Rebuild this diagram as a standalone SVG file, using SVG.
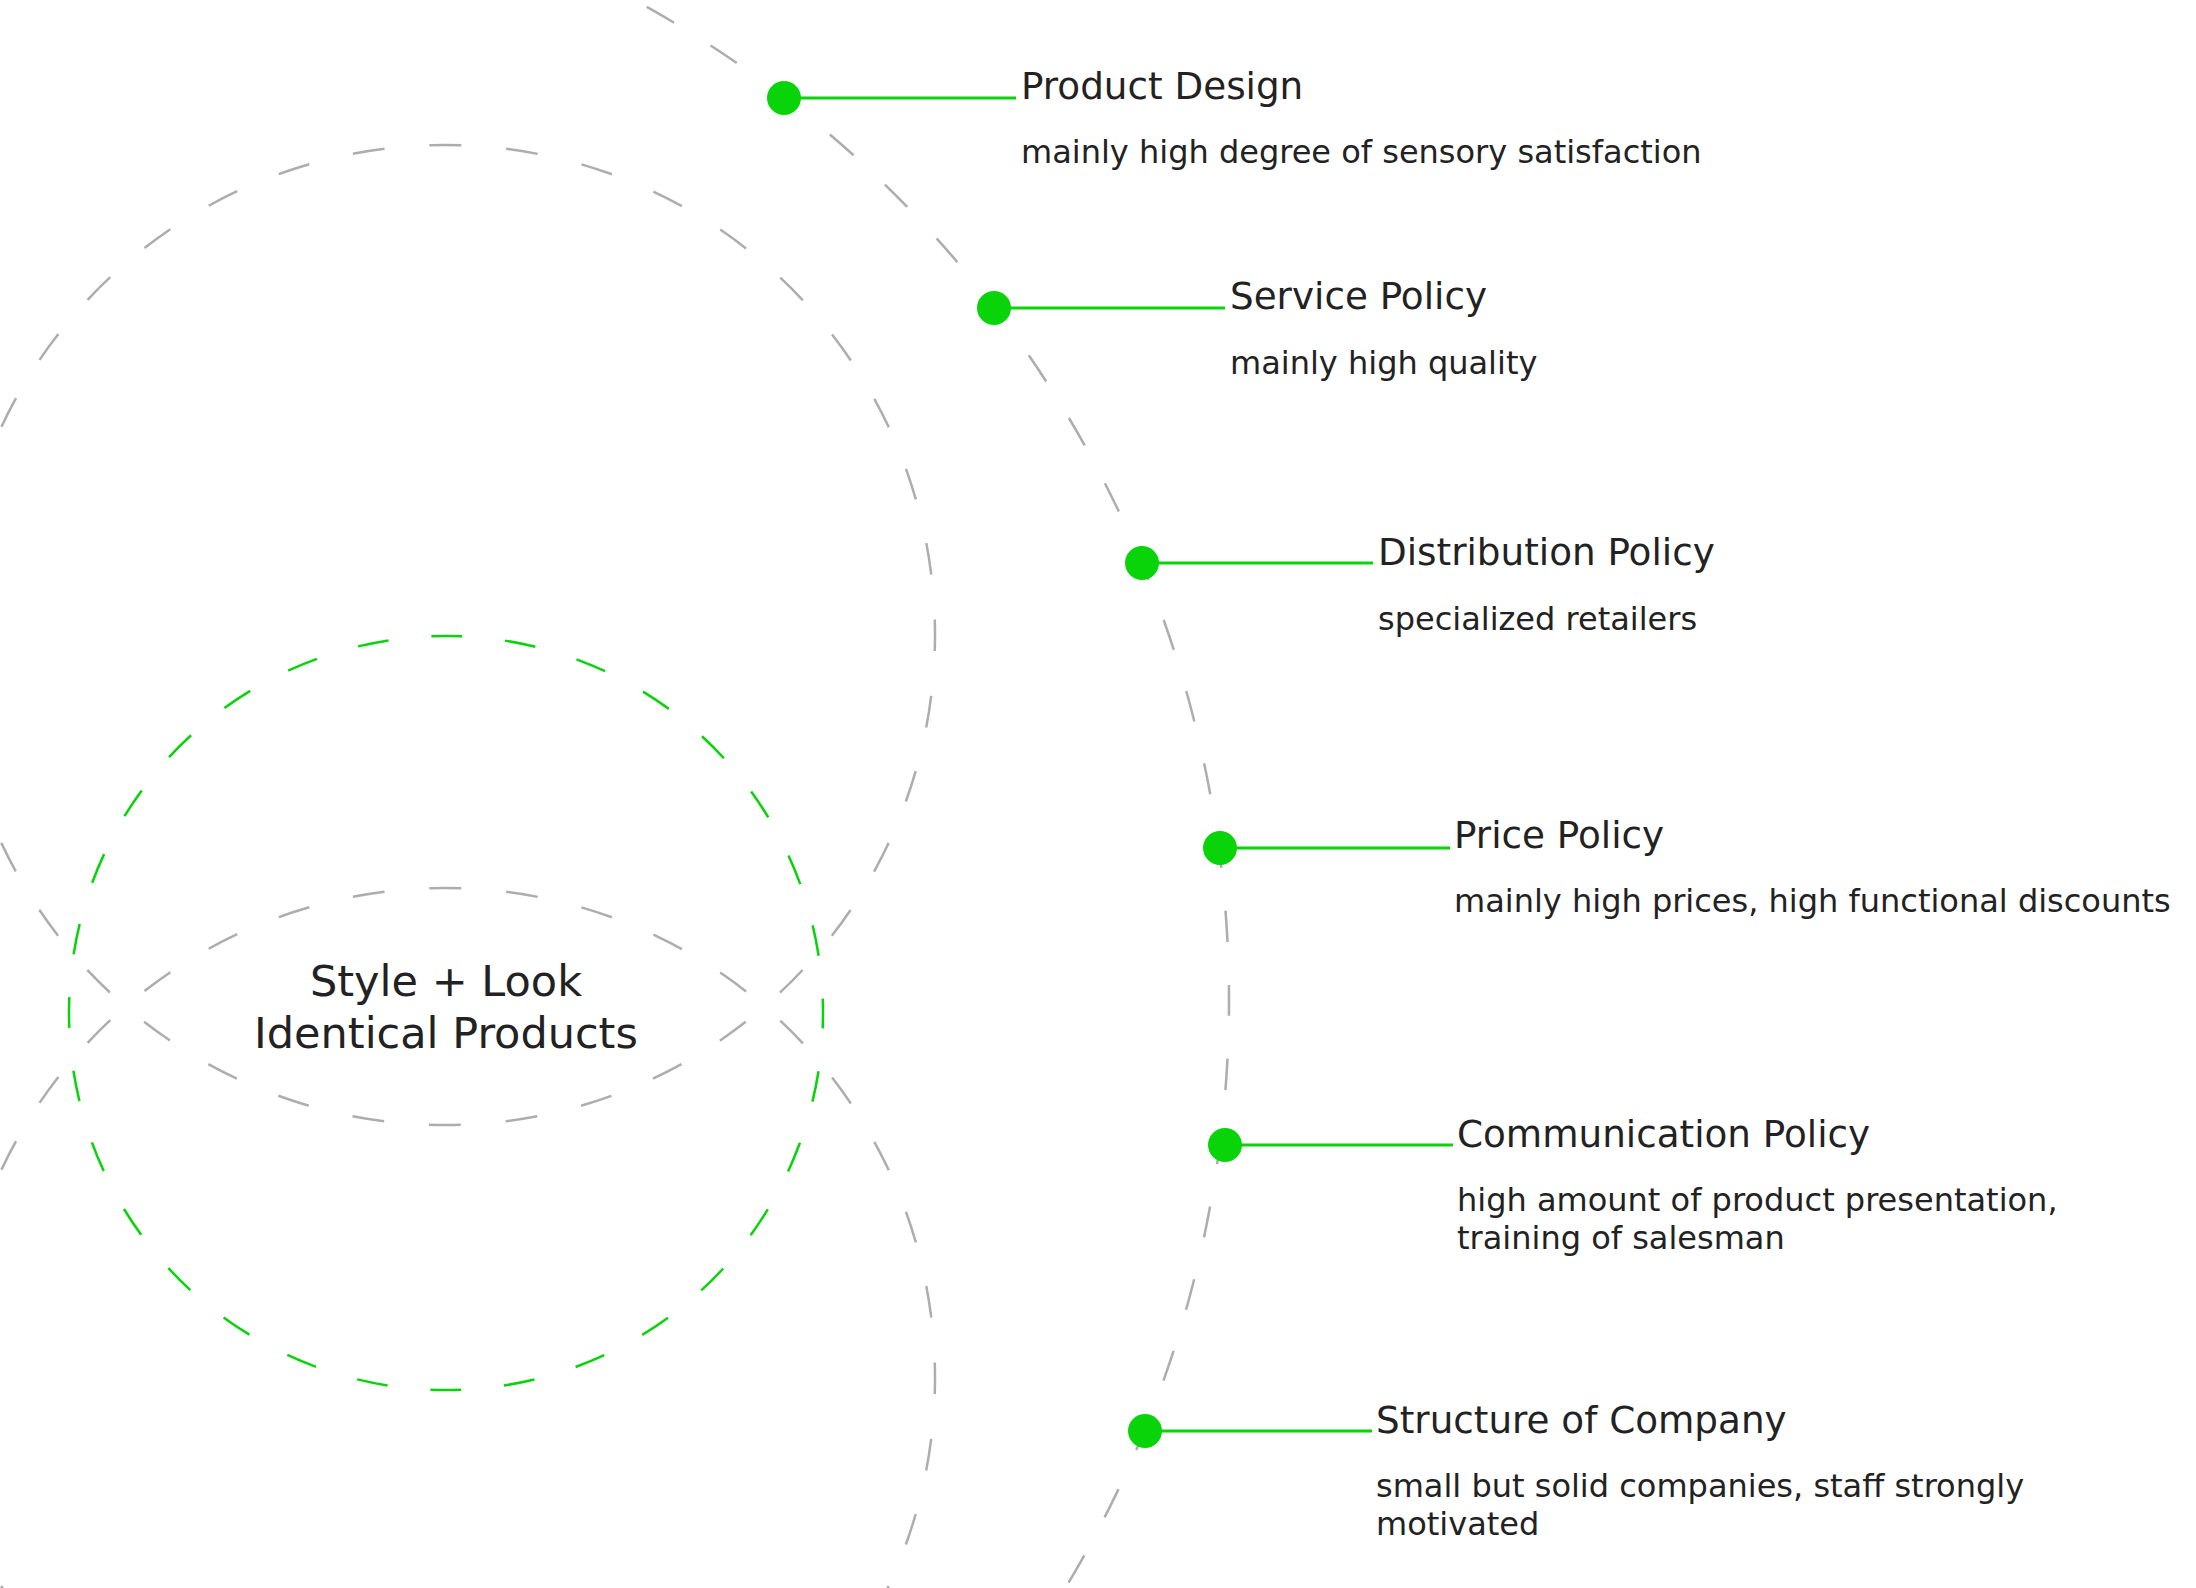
<svg xmlns="http://www.w3.org/2000/svg" width="2196" height="1588" viewBox="0 0 2196 1588">
  <style>
    .bg { fill: #ffffff; }
    .ring { fill: none; stroke: #adadad; stroke-width: 2.5; }
    .big { stroke-dasharray: 31.5 42.982; stroke-dashoffset: 15.75; }
    .mid { stroke-dasharray: 32 44.969; stroke-dashoffset: 16; }
    .green-ring { fill: none; stroke: #09d309; stroke-width: 2.5; stroke-dasharray: 31 43.024; stroke-dashoffset: 15.5; }
    .dot { fill: #09d309; }
    .conn { stroke: #09d309; stroke-width: 3; fill: none; }
    .title { font-family: "DejaVu Sans", Verdana, sans-serif; font-size: 37.3px; fill: #222222; }
    .sub { font-family: "DejaVu Sans", Verdana, sans-serif; font-size: 32px; fill: #222222; }
    .center { font-family: "DejaVu Sans", Verdana, sans-serif; font-size: 43px; fill: #222222; text-anchor: middle; }
  </style>
  <rect class="bg" x="0" y="0" width="2196" height="1588"/>

  <g id="background-rings">
    <circle class="ring big" cx="91" cy="1000" r="1138"/>
    <circle class="ring mid" cx="445" cy="635" r="490"/>
    <circle class="ring mid" cx="445" cy="1378" r="490"/>
  </g>

  <g id="core">
    <circle class="green-ring" cx="446" cy="1013" r="377"/>
    <text class="center" x="446" y="996">Style + Look</text>
    <text class="center" x="446" y="1048">Identical Products</text>
  </g>

  <g id="connectors">
    <line class="conn" x1="784" y1="98" x2="1016" y2="98"/>
    <line class="conn" x1="994" y1="308" x2="1225" y2="308"/>
    <line class="conn" x1="1142" y1="563" x2="1373" y2="563"/>
    <line class="conn" x1="1220" y1="848" x2="1450" y2="848"/>
    <line class="conn" x1="1225" y1="1145" x2="1453" y2="1145"/>
    <line class="conn" x1="1145" y1="1431" x2="1372" y2="1431"/>
  </g>

  <g id="product-design">
    <circle class="dot" cx="784" cy="98" r="17"/>
    <text class="title" x="1021" y="99">Product Design</text>
    <text class="sub" x="1021" y="163">mainly high degree of sensory satisfaction</text>
  </g>

  <g id="service-policy">
    <circle class="dot" cx="994" cy="308" r="17"/>
    <text class="title" x="1230" y="309">Service Policy</text>
    <text class="sub" x="1230" y="374">mainly high quality</text>
  </g>

  <g id="distribution-policy">
    <circle class="dot" cx="1142" cy="563" r="17"/>
    <text class="title" x="1378" y="565">Distribution Policy</text>
    <text class="sub" x="1378" y="630">specialized retailers</text>
  </g>

  <g id="price-policy">
    <circle class="dot" cx="1220" cy="848" r="17"/>
    <text class="title" x="1454" y="848">Price Policy</text>
    <text class="sub" x="1454" y="912">mainly high prices, high functional discounts</text>
  </g>

  <g id="communication-policy">
    <circle class="dot" cx="1225" cy="1145" r="17"/>
    <text class="title" x="1457" y="1147">Communication Policy</text>
    <text class="sub" x="1457" y="1211">high amount of product presentation,</text>
    <text class="sub" x="1457" y="1249">training of salesman</text>
  </g>

  <g id="structure-of-company">
    <circle class="dot" cx="1145" cy="1431" r="17"/>
    <text class="title" x="1376" y="1433">Structure of Company</text>
    <text class="sub" x="1376" y="1497">small but solid companies, staff strongly</text>
    <text class="sub" x="1376" y="1535">motivated</text>
  </g>
</svg>
